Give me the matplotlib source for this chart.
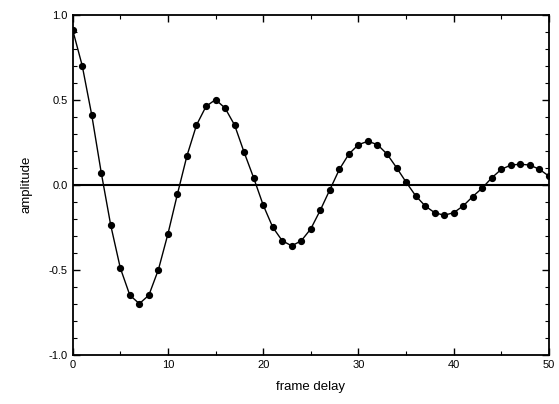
import matplotlib
matplotlib.use("Agg")
import matplotlib.pyplot as plt
from matplotlib.ticker import MultipleLocator

plt.rcParams['font.family'] = ['Liberation Sans', 'DejaVu Sans']

# autocorrelation-like amplitude, one point per frame delay
delay = list(range(0, 51))
amplitude = [0.91, 0.70, 0.41, 0.07, -0.24, -0.49, -0.65, -0.70, -0.65, -0.50,
             -0.29, -0.055, 0.17, 0.35, 0.46, 0.50, 0.45, 0.35, 0.19, 0.04,
             -0.12, -0.25, -0.33, -0.36, -0.33, -0.26, -0.15, -0.03, 0.09, 0.18,
             0.235, 0.255, 0.235, 0.18, 0.10, 0.015, -0.065, -0.125, -0.165, -0.18,
             -0.165, -0.125, -0.07, -0.02, 0.04, 0.09, 0.115, 0.12, 0.115, 0.09,
             0.05]

fig = plt.figure(figsize=(5.59, 4.04), dpi=100)
ax = fig.add_axes([0.13, 0.122, 0.852, 0.842])

ax.axhline(0, color='black', lw=1.5, zorder=1)
ax.plot(delay, amplitude, 'k-', lw=1.0, marker='o', ms=4.2, zorder=2)

ax.set_xlim(0, 50)
ax.set_ylim(-1.0, 1.0)
ax.xaxis.set_major_locator(MultipleLocator(10))
ax.xaxis.set_minor_locator(MultipleLocator(5))
ax.yaxis.set_major_locator(MultipleLocator(0.5))
ax.yaxis.set_minor_locator(MultipleLocator(0.1))
ax.yaxis.set_major_formatter(plt.FuncFormatter(lambda v, p: "%.1f" % v))

ax.tick_params(which='both', direction='in', top=True, right=True, labelsize=8)
ax.tick_params(which='major', length=5, width=1)
ax.tick_params(which='minor', length=3, width=0.8)
for s in ax.spines.values():
    s.set_linewidth(1.3)

ax.set_xlabel("frame delay", fontsize=9.5, labelpad=8)
ax.set_ylabel("amplitude", fontsize=9.5, labelpad=12)

fig.savefig("out.png", dpi=100)
